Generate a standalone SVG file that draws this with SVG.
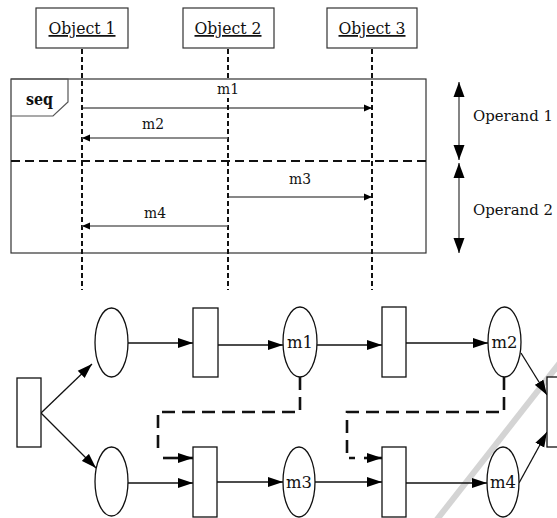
<svg xmlns="http://www.w3.org/2000/svg" width="557" height="518" viewBox="0 0 557 518">
<style>
.box{fill:#fff;stroke:#333;stroke-width:1.2}
.pn{fill:#fff;stroke:#111;stroke-width:1.3}
.t{font-family:'DejaVu Serif',serif;fill:#111}
.life{fill:none;stroke:#111;stroke-width:2;stroke-dasharray:5,3}
.msg{fill:none;stroke:#111;stroke-width:1.2}
.msgg{fill:none;stroke:#666;stroke-width:1.6}
.arc{fill:none;stroke:#111;stroke-width:1.3}
.dash{fill:none;stroke:#111;stroke-width:2.6;stroke-dasharray:13,7}
</style>
<defs>
<marker id="sa" markerUnits="userSpaceOnUse" markerWidth="9" markerHeight="8" refX="8" refY="4" orient="auto"><path d="M0,0.5 L8,4 L0,7.5 z" fill="#000"/></marker>
<marker id="pa" markerUnits="userSpaceOnUse" markerWidth="16" markerHeight="11" refX="15" refY="5.5" orient="auto"><path d="M0,0.5 L15,5.5 L0,10.5 z" fill="#000"/></marker>
<marker id="oa" markerUnits="userSpaceOnUse" markerWidth="16" markerHeight="12" refX="15" refY="6" orient="auto-start-reverse"><path d="M0,0.5 L15,6 L0,11.5 z" fill="#000"/></marker>
</defs>
<rect width="557" height="518" fill="#fff"/>
<line x1="562" y1="360" x2="435" y2="522" stroke="#d4d4d4" stroke-width="6"/>
<g id="frame">
<rect x="11" y="79" width="415" height="174" fill="none" stroke="#333" stroke-width="1.2"/>
<path d="M11,79 L68,79 L68,102 L53,116 L11,116" fill="none" stroke="#555" stroke-width="1.2"/>
<text class="t" x="26" y="105" font-size="17" font-weight="bold" textLength="27" lengthAdjust="spacingAndGlyphs">seq</text>
<line x1="11" y1="161" x2="426" y2="161" stroke="#111" stroke-width="2" stroke-dasharray="9,5"/>
</g>
<g id="lifelines">
<line class="life" x1="82" y1="49" x2="82" y2="290"/>
<line class="life" x1="228" y1="49" x2="228" y2="290"/>
<line class="life" x1="372" y1="49" x2="372" y2="290"/>
</g>
<g id="obj1"><rect class="box" x="36" y="8" width="92" height="40"/><text class="t" x="82" y="34" font-size="17.5" text-anchor="middle" text-decoration="underline" textLength="67" lengthAdjust="spacingAndGlyphs">Object 1</text></g>
<g id="obj2"><rect class="box" x="183" y="8" width="91" height="40"/><text class="t" x="228" y="34" font-size="17.5" text-anchor="middle" text-decoration="underline" textLength="67" lengthAdjust="spacingAndGlyphs">Object 2</text></g>
<g id="obj3"><rect class="box" x="327" y="8" width="90" height="40"/><text class="t" x="372" y="34" font-size="17.5" text-anchor="middle" text-decoration="underline" textLength="67" lengthAdjust="spacingAndGlyphs">Object 3</text></g>
<g id="messages">
<line class="msg" x1="82" y1="108" x2="372" y2="108" marker-end="url(#sa)"/>
<rect x="216" y="80" width="23" height="18" fill="#fff"/>
<text class="t" x="228" y="94" font-size="15.5" text-anchor="middle" textLength="22" lengthAdjust="spacingAndGlyphs">m1</text>
<line class="msgg" x1="228" y1="138" x2="82" y2="138" marker-end="url(#sa)"/>
<text class="t" x="153" y="129" font-size="15.5" text-anchor="middle" textLength="22" lengthAdjust="spacingAndGlyphs">m2</text>
<line class="msg" x1="228" y1="197" x2="372" y2="197" marker-end="url(#sa)"/>
<text class="t" x="300" y="184" font-size="15.5" text-anchor="middle" textLength="22" lengthAdjust="spacingAndGlyphs">m3</text>
<line class="msgg" x1="228" y1="226" x2="82" y2="226" marker-end="url(#sa)"/>
<text class="t" x="155" y="218" font-size="15.5" text-anchor="middle" textLength="22" lengthAdjust="spacingAndGlyphs">m4</text>
</g>
<g id="operand1">
<line x1="459" y1="82" x2="459" y2="160" stroke="#666" stroke-width="1.6" marker-start="url(#oa)" marker-end="url(#oa)"/>
<text class="t" x="473" y="121" font-size="14.5" textLength="80" lengthAdjust="spacingAndGlyphs">Operand 1</text>
</g>
<g id="operand2">
<line x1="459" y1="163" x2="459" y2="253" stroke="#666" stroke-width="1.6" marker-start="url(#oa)" marker-end="url(#oa)"/>
<text class="t" x="473" y="215" font-size="14.5" textLength="80" lengthAdjust="spacingAndGlyphs">Operand 2</text>
</g>
<g id="connectors">
<line class="arc" x1="41" y1="413" x2="92" y2="364" marker-end="url(#pa)"/>
<line class="arc" x1="41" y1="413" x2="96" y2="468" marker-end="url(#pa)"/>
<line class="arc" x1="128" y1="343" x2="193" y2="343" marker-end="url(#pa)"/>
<line class="arc" x1="128" y1="483" x2="193" y2="483" marker-end="url(#pa)"/>
<line class="arc" x1="218" y1="345" x2="283" y2="345" marker-end="url(#pa)"/>
<line class="arc" x1="217" y1="482" x2="283" y2="482" marker-end="url(#pa)"/>
<line class="arc" x1="317" y1="345" x2="382" y2="345" marker-end="url(#pa)"/>
<line class="arc" x1="315" y1="482" x2="382" y2="482" marker-end="url(#pa)"/>
<line class="arc" x1="406" y1="343" x2="488" y2="343" marker-end="url(#pa)"/>
<line class="arc" x1="406" y1="483" x2="487" y2="483" marker-end="url(#pa)"/>
<line class="arc" x1="521" y1="353" x2="547" y2="395" marker-end="url(#pa)"/>
<line class="arc" x1="519" y1="483" x2="547" y2="432" marker-end="url(#pa)"/>
<path class="dash" d="M300,377 L300,412 L158,412 L158,455"/>
<line x1="163" y1="458" x2="193" y2="458" stroke="#111" stroke-width="2.6" marker-end="url(#pa)"/>
<path class="dash" d="M504,377 L504,412 L347,412 L347,458 L355,458"/>
<line x1="364" y1="458" x2="382" y2="458" stroke="#111" stroke-width="2.6" marker-end="url(#pa)"/>
</g>
<g id="t0"><rect class="pn" x="17" y="378" width="24" height="69"/></g>
<g id="p1"><ellipse class="pn" cx="111.5" cy="342.5" rx="16.5" ry="34.5"/></g>
<g id="p2"><ellipse class="pn" cx="111.5" cy="481.5" rx="16.5" ry="34.5"/></g>
<g id="t1"><rect class="pn" x="193" y="308" width="25" height="69"/></g>
<g id="t2"><rect class="pn" x="193" y="447" width="24" height="70"/></g>
<g id="pm1"><ellipse class="pn" cx="300" cy="342" rx="17" ry="35"/><text class="t" x="300" y="348" font-size="17.5" text-anchor="middle" textLength="26" lengthAdjust="spacingAndGlyphs">m1</text></g>
<g id="pm3"><ellipse class="pn" cx="299" cy="482" rx="16" ry="35"/><text class="t" x="299" y="488" font-size="17.5" text-anchor="middle" textLength="26" lengthAdjust="spacingAndGlyphs">m3</text></g>
<g id="t3"><rect class="pn" x="382" y="307" width="24" height="70"/></g>
<g id="t4"><rect class="pn" x="382" y="447" width="24" height="70"/></g>
<g id="pm2"><ellipse class="pn" cx="504.5" cy="342" rx="16.5" ry="35"/><text class="t" x="504.5" y="348" font-size="17.5" text-anchor="middle" textLength="26" lengthAdjust="spacingAndGlyphs">m2</text></g>
<g id="pm4"><ellipse class="pn" cx="503" cy="482" rx="16" ry="35"/><text class="t" x="503" y="488" font-size="17.5" text-anchor="middle" textLength="26" lengthAdjust="spacingAndGlyphs">m4</text></g>
<g id="t5"><rect class="pn" x="547" y="377" width="30" height="70"/></g>
</svg>
